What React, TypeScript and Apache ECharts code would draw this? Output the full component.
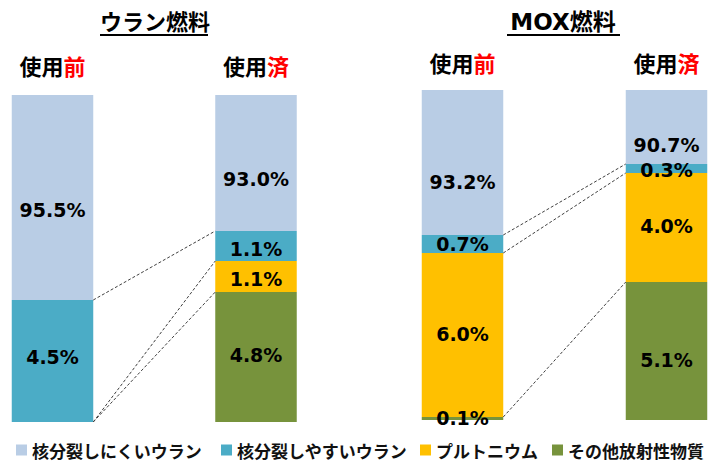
import React, { useEffect, useRef } from "react";
import * as echarts from "echarts";

// ---- data ----
const categories = ["使用前", "使用済"];
const seriesNames = ["核分裂しにくいウラン", "核分裂しやすいウラン", "プルトニウム", "その他放射性物質"];
const fuelTitles = ["ウラン燃料", "MOX燃料"];

// percentages shown on the bars (null = component absent)
const uraniumHardPct = [95.5, 93.0];
const uraniumEasyPct = [4.5, 1.1];
const uraniumPuPct = [null, 1.1];
const uraniumOtherPct = [null, 4.8];

const moxHardPct = [93.2, 90.7];
const moxEasyPct = [0.7, 0.3];
const moxPuPct = [6.0, 4.0];
const moxOtherPct = [0.1, 5.1];

// drawn segment sizes (the picture is not to scale; relative display shares)
const uraniumHardDrawn = [205, 136];
const uraniumEasyDrawn = [122, 30];
const uraniumPuDrawn = [0, 31];
const uraniumOtherDrawn = [0, 130];

const moxHardDrawn = [145, 74];
const moxEasyDrawn = [18, 9];
const moxPuDrawn = [164, 109];
const moxOtherDrawn = [3, 138];

// ---- styles ----
const COLORS = ["#B9CDE5", "#4BACC6", "#FFC000", "#77933C"];
const BAR_W = 81.5;
const NUM_FONT = "'DejaVu Sans', Verdana, sans-serif";
const JP_FONT = "'Noto Sans CJK JP', 'Noto Sans', sans-serif";
const TITLE_FONT = "'DejaVu Sans', 'Noto Sans CJK JP', sans-serif";
// label vertical nudges [component][bar], in px
const uraniumLabelNudge = [[12, 16], [-4, 3], [0, 2], [0, -2]];
const moxLabelNudge = [[19, 18], [0, 1], [-1, -2], [-1, 9]];

function fmt(v: number | null) {
  return v == null ? "" : v.toFixed(1) + "%";
}

function buildFuel(
  gridIndex: number,
  pct: (number | null)[][],
  drawn: number[][],
  nudge: number[][]
) {
  // stacking order: bottom first (other, pu, easy, hard)
  const order = [3, 2, 1, 0];
  const series: any[] = order.map((c) => ({
    type: "bar",
    name: seriesNames[c],
    xAxisIndex: gridIndex,
    yAxisIndex: gridIndex,
    stack: "fuel" + gridIndex,
    barWidth: BAR_W,
    itemStyle: { color: COLORS[c] },
    data: drawn[c].map((v, i) => ({
      value: v,
      label: { offset: [0, nudge[c][i]] },
    })),
    label: {
      show: true,
      position: "inside",
      color: "#000",
      fontFamily: NUM_FONT,
      fontWeight: "bold",
      fontSize: 19,
      formatter: (p: any) => fmt(pct[c][p.dataIndex]),
    },
    emphasis: { disabled: true },
  }));
  // connectors between the same stack boundaries of both bars
  const levels = [3, 2, 1];
  const cum = (i: number) => {
    let s = 0;
    return levels.map((c) => (s += drawn[c][i]));
  };
  const before = cum(0);
  const after = cum(1);
  series.push({
    type: "custom",
    xAxisIndex: gridIndex,
    yAxisIndex: gridIndex,
    silent: true,
    z: 5,
    dimensions: ["x0", "y0", "x1", "y1"],
    encode: { x: [0, 2], y: [1, 3] },
    data: levels.map((_, k) => [0, before[k], 1, after[k]]),
    renderItem: (params: any, api: any) => {
      const a = api.coord([api.value(0), api.value(1)]);
      const b = api.coord([api.value(2), api.value(3)]);
      return {
        type: "line",
        shape: { x1: a[0] + BAR_W / 2, y1: a[1], x2: b[0] - BAR_W / 2, y2: b[1] },
        style: { stroke: "#404040", lineWidth: 1, lineDash: [3, 2] },
        silent: true,
      };
    },
  });
  const total = Math.max(
    ...[0, 1].map((i) => drawn.reduce((s, arr) => s + arr[i], 0))
  );
  return { series, total };
}

export default function App() {
  const ref = useRef<HTMLDivElement>(null);
  useEffect(() => {
    if (!ref.current) return;
    const chart = echarts.init(ref.current, undefined, { renderer: "svg" });
    const u = buildFuel(
      0,
      [uraniumHardPct, uraniumEasyPct, uraniumPuPct, uraniumOtherPct],
      [uraniumHardDrawn, uraniumEasyDrawn, uraniumPuDrawn, uraniumOtherDrawn],
      uraniumLabelNudge
    );
    const m = buildFuel(
      1,
      [moxHardPct, moxEasyPct, moxPuPct, moxOtherPct],
      [moxHardDrawn, moxEasyDrawn, moxPuDrawn, moxOtherDrawn],
      moxLabelNudge
    );
    const xAxisBase = (margin: number) => ({
      type: "category",
      data: categories,
      position: "top",
      boundaryGap: false,
      axisLine: { show: false },
      axisTick: { show: false },
      splitLine: { show: false },
      axisLabel: {
        margin,
        formatter: (v: string) => `{n|${v.slice(0, 2)}}{r|${v.slice(2)}}`,
        rich: {
          n: { color: "#000", fontFamily: JP_FONT, fontWeight: "bold", fontSize: 22 },
          r: { color: "#FF0000", fontFamily: JP_FONT, fontWeight: "bold", fontSize: 22 },
        },
      },
    });
    const legendLefts = [16, 221, 420, 552];
    chart.setOption({
      animation: false,
      backgroundColor: "#fff",
      grid: [
        { left: 52.5, width: 203.5, top: 95, height: 327 },
        { left: 462.5, width: 204, top: 90, height: 330 },
      ],
      xAxis: [
        { ...xAxisBase(19), gridIndex: 0 },
        { ...xAxisBase(17), gridIndex: 1 },
      ],
      yAxis: [
        { type: "value", gridIndex: 0, min: 0, max: u.total, show: false },
        { type: "value", gridIndex: 1, min: 0, max: m.total, show: false },
      ],
      legend: seriesNames.map((name, i) => ({
        data: [name],
        left: legendLefts[i],
        top: 441,
        padding: 0,
        icon: "rect",
        itemWidth: 11,
        itemHeight: 11,
        selectedMode: false,
        textStyle: {
          color: "#111",
          fontFamily: JP_FONT,
          fontWeight: "bold",
          fontSize: 17,
          lineHeight: 18,
        },
      })),
      graphic: [
        {
          type: "text",
          x: 155,
          y: 22,
          style: {
            text: fuelTitles[0],
            fill: "#000",
            font: `bold 22px ${TITLE_FONT}`,
            textAlign: "center",
            textVerticalAlign: "middle",
          },
        },
        {
          type: "line",
          shape: { x1: 100, y1: 35, x2: 208, y2: 35 },
          style: { stroke: "#000", lineWidth: 2 },
        },
        {
          type: "text",
          x: 563,
          y: 22,
          style: {
            text: fuelTitles[1],
            fill: "#000",
            font: `bold 23px ${TITLE_FONT}`,
            textAlign: "center",
            textVerticalAlign: "middle",
          },
        },
        {
          type: "line",
          shape: { x1: 507, y1: 35, x2: 620, y2: 35 },
          style: { stroke: "#000", lineWidth: 2 },
        },
      ],
      series: [...u.series, ...m.series],
    });
    return () => chart.dispose();
  }, []);
  return (
    <div
      ref={ref}
      style={{ position: "fixed", left: 0, top: 0, width: 715, height: 461, background: "#fff" }}
    />
  );
}
